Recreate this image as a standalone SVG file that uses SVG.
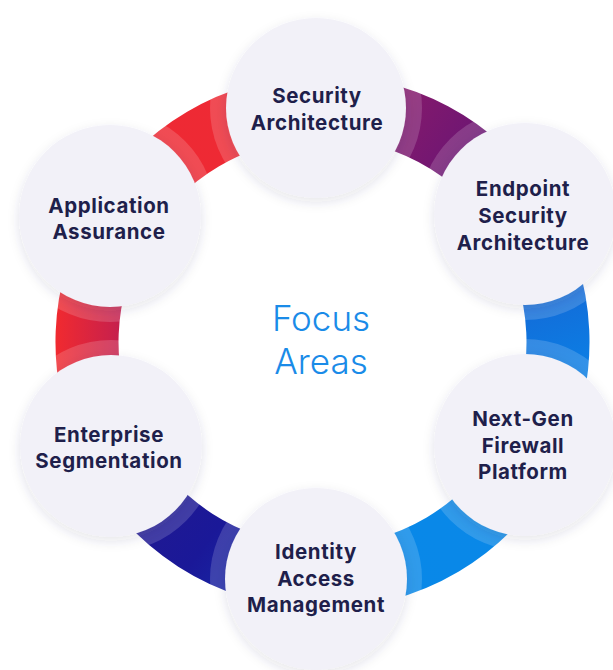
<svg xmlns="http://www.w3.org/2000/svg" width="613" height="670" viewBox="0 0 613 670">
  <style>
    .node-circle { fill: #F2F1F8; filter: url(#shadow); }
    .halo { fill: #FFFFFF; fill-opacity: 0.16; }
    .label { font-family: Inter, "Liberation Sans", sans-serif; font-weight: 700; font-size: 20.5px; fill: #1F1F4B; text-anchor: middle; letter-spacing: 0.6px; }
    .center { font-family: Inter, "Liberation Sans", sans-serif; font-weight: 300; font-size: 35px; fill: #1A8BE8; text-anchor: middle; }
  </style>
  <defs>
    <filter id="shadow" x="-30%" y="-30%" width="160%" height="160%">
      <feDropShadow dx="0" dy="4" stdDeviation="6" flood-color="#2A2A55" flood-opacity="0.12"/>
    </filter>
    <linearGradient id="gUL" gradientUnits="userSpaceOnUse" x1="120" y1="220" x2="316" y2="100">
      <stop offset="0" stop-color="#EE2933"/>
      <stop offset="1" stop-color="#EE2A35"/>
    </linearGradient>
    <linearGradient id="gL" gradientUnits="userSpaceOnUse" x1="57" y1="330" x2="125" y2="330">
      <stop offset="0" stop-color="#F02A30"/>
      <stop offset="1" stop-color="#C21F50"/>
    </linearGradient>
    <linearGradient id="gUR" gradientUnits="userSpaceOnUse" x1="330" y1="100" x2="520" y2="230">
      <stop offset="0" stop-color="#951C66"/>
      <stop offset="1" stop-color="#55127C"/>
    </linearGradient>
    <linearGradient id="gR" gradientUnits="userSpaceOnUse" x1="525" y1="230" x2="590" y2="420">
      <stop offset="0" stop-color="#1A5CCE"/>
      <stop offset="1" stop-color="#068AEC"/>
    </linearGradient>
    <linearGradient id="gBR" gradientUnits="userSpaceOnUse" x1="530" y1="450" x2="320" y2="580">
      <stop offset="0" stop-color="#0A88E8"/>
      <stop offset="1" stop-color="#0888E8"/>
    </linearGradient>
    <linearGradient id="gBL" gradientUnits="userSpaceOnUse" x1="120" y1="450" x2="320" y2="600">
      <stop offset="0" stop-color="#251A8E"/>
      <stop offset="0.5" stop-color="#1A1898"/>
      <stop offset="1" stop-color="#1438B6"/>
    </linearGradient>
  </defs>

  <rect width="613" height="670" fill="#FFFFFF"/>

  <g id="connectors">
    <path d="M315.05,75.1 A267,267 0 0 1 548.2,199.3 L494.9,233.0 A204,204 0 0 0 316.8,138.1 Z" fill="url(#gUR)"/>
    <path d="M548.2,199.3 A267,267 0 0 1 560.4,463.2 L504.3,434.6 A204,204 0 0 0 494.9,233.0 Z" fill="url(#gR)"/>
    <path d="M560.4,463.2 A267,267 0 0 1 315.05,608.9 L316.8,545.9 A204,204 0 0 0 504.3,434.6 Z" fill="url(#gBR)"/>
    <path d="M315.05,608.9 A267,267 0 0 1 82.9,459.9 L139.5,432.1 A204,204 0 0 0 316.8,545.9 Z" fill="url(#gBL)"/>
    <path d="M82.9,459.9 A267,267 0 0 1 92.9,205.7 L147.1,237.9 A204,204 0 0 0 139.5,432.1 Z" fill="url(#gL)"/>
    <path d="M92.9,205.7 A267,267 0 0 1 315.05,75.1 L316.8,138.1 A204,204 0 0 0 147.1,237.9 Z" fill="url(#gUL)"/>
  </g>

  <g id="halos">
    <circle class="halo" cx="316" cy="108" r="106"/>
    <circle class="halo" cx="525" cy="214" r="106"/>
    <circle class="halo" cx="525" cy="445" r="106"/>
    <circle class="halo" cx="316" cy="579" r="106"/>
    <circle class="halo" cx="111" cy="446" r="106"/>
    <circle class="halo" cx="110" cy="216" r="106"/>
  </g>

  <g id="center-label">
    <text class="center" x="321" y="331">Focus</text>
    <text class="center" x="321" y="374">Areas</text>
  </g>

  <g id="node-security-architecture">
    <circle class="node-circle" cx="316" cy="108" r="90"/>
    <text class="label" x="317" y="103">Security</text>
    <text class="label" x="317" y="130">Architecture</text>
  </g>

  <g id="node-endpoint-security">
    <circle class="node-circle" cx="525" cy="214" r="91"/>
    <text class="label" x="523" y="196">Endpoint</text>
    <text class="label" x="523" y="223">Security</text>
    <text class="label" x="523" y="250">Architecture</text>
  </g>

  <g id="node-next-gen-firewall">
    <circle class="node-circle" cx="525" cy="445" r="91"/>
    <text class="label" x="523" y="426">Next-Gen</text>
    <text class="label" x="523" y="453">Firewall</text>
    <text class="label" x="523" y="479">Platform</text>
  </g>

  <g id="node-identity-access">
    <circle class="node-circle" cx="316" cy="579" r="91"/>
    <text class="label" x="316" y="559">Identity</text>
    <text class="label" x="316" y="586">Access</text>
    <text class="label" x="316" y="612">Management</text>
  </g>

  <g id="node-enterprise-segmentation">
    <circle class="node-circle" cx="111" cy="446" r="91"/>
    <text class="label" x="109" y="442">Enterprise</text>
    <text class="label" x="109" y="468">Segmentation</text>
  </g>

  <g id="node-application-assurance">
    <circle class="node-circle" cx="110" cy="216" r="91"/>
    <text class="label" x="109" y="213">Application</text>
    <text class="label" x="109" y="239">Assurance</text>
  </g>
</svg>
